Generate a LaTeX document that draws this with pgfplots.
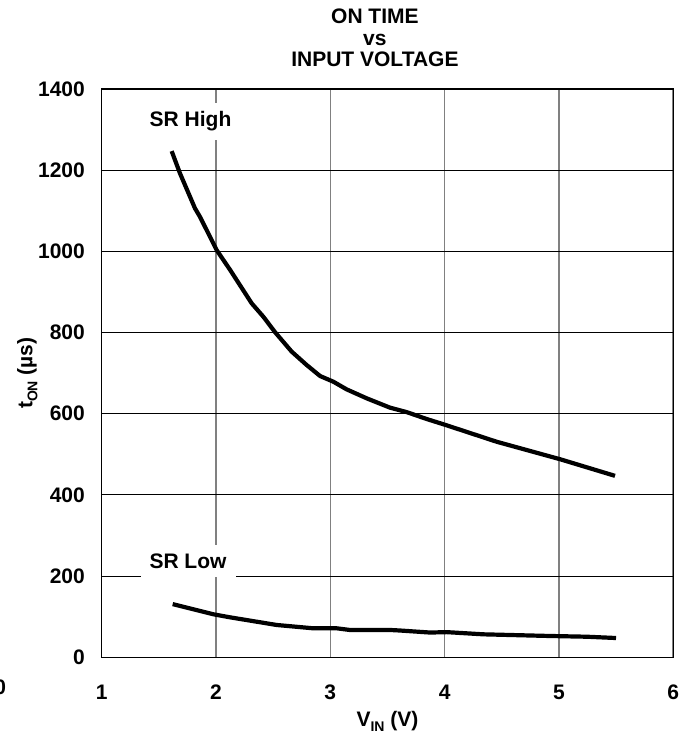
\documentclass[border=0pt]{standalone}
\usepackage{fontspec}
\setmainfont{Liberation Sans}
\usepackage{pgfplots}
\pgfplotsset{compat=1.18}
\newcommand\ff{\fontsize{21}{21.3}\selectfont\bfseries}
\newcommand\fs{\fontsize{14}{14}\selectfont\bfseries}
\begin{document}
\ff
\begin{tikzpicture}
\begin{axis}[
  at={(0,0)}, anchor=south west,
  scale only axis, width=571.6pt, height=568.3pt,
  xmin=1, xmax=6, ymin=0, ymax=1400,
  xtick={1,2,3,4,5,6}, ytick={0,200,400,600,800,1000,1200,1400},
  major tick length=0pt,
  tick style={draw=none},
  axis line style={black, line width=1.5pt},
  /pgf/number format/assume math mode=true,
  /pgf/number format/1000 sep={},
  every tick label/.append style={font=\ff},
  yticklabel style={anchor=east, inner sep=0pt, xshift=-16.7pt},
  xticklabel style={anchor=north, inner sep=0pt, yshift=-27.7pt},
  xmajorgrids, ymajorgrids,
  major x grid style={draw=black!50, line width=1.6pt},
  major y grid style={draw=black, line width=1pt},
  clip=false,
  xlabel={V\raisebox{-5pt}{\fs IN} (V)},
  ylabel={t\raisebox{-5pt}{\fs ON} (µs)},
  xlabel style={at={(axis description cs:0.5,-0.1221)}, anchor=base, inner sep=0pt, font=\ff},
  ylabel style={at={(axis description cs:-0.1214,0.5)}, anchor=base, rotate=0, inner sep=0pt, font=\ff},
]
\addplot[black, line width=4.2pt, line join=round, line cap=butt] coordinates {
(1.612,1247) (1.685,1192) (1.816,1106) (1.860,1085) (2.006,1003)
(2.124,954) (2.312,872) (2.414,839) (2.516,801) (2.662,753)
(2.793,720) (2.910,693) (3.026,679) (3.143,660) (3.318,638)
(3.522,615) (3.668,604) (3.843,587) (4.012,572) (4.455,531)
(5.009,488) (5.490,447)
};
\addplot[black, line width=4.2pt, line join=round, line cap=butt] coordinates {
(1.621,131) (1.976,106) (2.122,98.5) (2.531,79.6) (2.851,71.4)
(3.056,71.4) (3.172,67.3) (3.522,67.3) (3.609,66) (3.872,61)
(4.018,62) (4.338,56.6) (4.921,52.5) (5.242,50.7) (5.499,47.5)
};
\node[fill=white, anchor=base, inner xsep=9pt, inner ysep=8.6pt, font=\ff] at (axis cs:1.777,1307) {SR High};
\node[fill=white, anchor=base, inner xsep=9pt, inner ysep=8.6pt, font=\ff] at (axis cs:1.755,219) {SR Low};
\node[anchor=base, inner sep=0pt, font=\ff] at (axis description cs:0.478,1.1144) {ON TIME};
\node[anchor=base, inner sep=0pt, font=\ff] at (axis description cs:0.478,1.0774) {vs};
\node[anchor=base, inner sep=0pt, font=\ff] at (axis description cs:0.478,1.0392) {INPUT VOLTAGE};
\node[overlay, anchor=base, inner sep=0pt, font=\ff] at (axis description cs:-0.1776,-0.0663) {0};
\end{axis}
\pgfresetboundingbox
\useasboundingbox (-101.7pt,-84.7pt) rectangle (594.3pt,657.3pt);
\end{tikzpicture}
\end{document}
